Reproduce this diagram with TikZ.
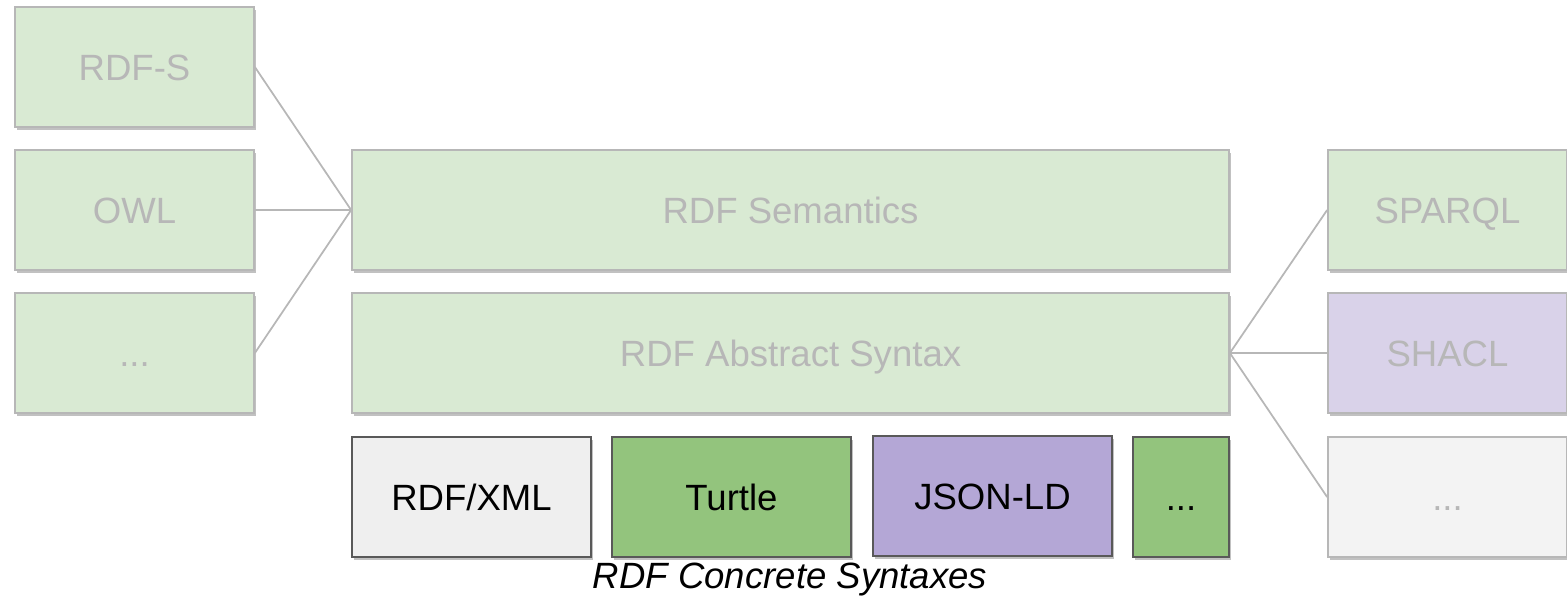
\documentclass[tikz,border=0pt]{standalone}
\usepackage{fontspec}
\setmainfont{Liberation Sans}
\usetikzlibrary{shadows}
\definecolor{palegreen}{HTML}{D9EAD3}
\definecolor{midgreen}{HTML}{93C47D}
\definecolor{midpurple}{HTML}{B4A7D6}
\definecolor{palepurple}{HTML}{D9D2E9}
\definecolor{palegrey}{HTML}{EFEFEF}
\definecolor{paleboxgrey}{HTML}{F3F3F3}
\definecolor{fadeline}{HTML}{B7B7B7}
\definecolor{darkedge}{HTML}{595959}
\begin{document}
\begin{tikzpicture}[x=0.1mm,y=-0.1mm,font=\fontsize{10.4}{12}\selectfont,
	layer/.style={draw,line width=0.5pt,inner sep=0pt,minimum height=12mm,text height=2.6mm,text depth=0pt,
		drop shadow={shadow xshift=0.15mm,shadow yshift=-0.3mm,opacity=0.35,fill=black!70}},
	faded/.style={layer,draw=fadeline,text=fadeline},
	solid/.style={layer,draw=darkedge,text=black},
	link/.style={draw=fadeline,line width=0.5pt}]
		\useasboundingbox (0,0) rectangle (1567,602);
		\node[faded,fill=palegreen,minimum width=23.9mm] (rdfs) at (134.5,67){RDF-S};
		\node[faded,fill=palegreen,minimum width=23.9mm] (owl) at (134.5,210){OWL};
		\node[faded,fill=palegreen,minimum width=23.9mm] (vocab) at (134.5,353){...};
		\node[faded,fill=palegreen,minimum width=87.7mm] (sem) at (790.5,210){RDF Semantics};
		\node[faded,fill=palegreen,minimum width=87.7mm] (abs) at (790.5,353){RDF Abstract Syntax};
		\node[solid,fill=palegrey,minimum width=23.9mm] (xml) at (471.5,497){RDF/XML};
		\node[solid,fill=midgreen,minimum width=23.9mm] (ttl) at (731.5,497){Turtle};
		\node[solid,fill=midpurple,minimum width=23.9mm] (jsonld) at (992.5,496){JSON-LD};
		\node[solid,fill=midgreen,minimum width=9.6mm] (more) at (1181,497){...};
		\node[faded,fill=palegreen,minimum width=23.9mm] (sparql) at (1447.5,210){SPARQL};
		\node[faded,fill=palepurple,minimum width=23.9mm] (shacl) at (1447.5,353){SHACL};
		\node[faded,fill=paleboxgrey,minimum width=23.9mm] (tools) at (1447.5,497){...};
		\node (concrete) at (790,580){\itshape RDF Concrete Syntaxes};
		\draw[link] (rdfs.east)--(sem.west);
		\draw[link] (owl.east)--(sem.west);
		\draw[link] (vocab.east)--(sem.west);
		\draw[link] (abs.east)--(sparql.west);
		\draw[link] (abs.east)--(shacl.west);
		\draw[link] (abs.east)--(tools.west);
\end{tikzpicture}
\end{document}
